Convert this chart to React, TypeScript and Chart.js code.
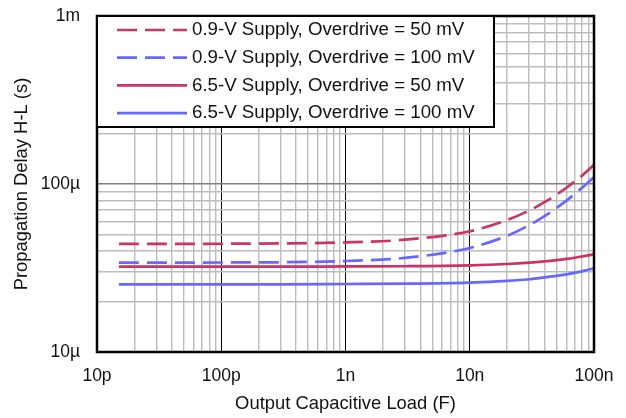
import React, { useEffect, useRef } from "react";
import { Chart, registerables } from "chart.js";

Chart.register(...registerables);

// Output capacitive load (F)
const loads = [15e-12, 30e-12, 100e-12, 300e-12, 1e-9, 3e-9, 10e-9, 20e-9, 30e-9, 40e-9, 50e-9, 60e-9, 70e-9, 80e-9, 90e-9, 100e-9];

// Propagation delay (µs)
const supply09od50 = [44, 44, 44.1, 44.3, 44.9, 46.6, 52.3, 61, 69.5, 78, 86.5, 95, 103.5, 112, 121, 130];
const supply09od100 = [34, 34, 34.1, 34.2, 34.8, 36.3, 41.6, 49.2, 56.8, 64.4, 72, 79.6, 87.2, 94.8, 102.4, 110];
const supply65od50 = [32.2, 32.2, 32.2, 32.2, 32.3, 32.4, 32.8, 33.4, 34, 34.6, 35.2, 35.8, 36.4, 37, 37.6, 38.2];
const supply65od100 = [25.3, 25.3, 25.3, 25.3, 25.4, 25.5, 25.9, 26.5, 27.1, 27.8, 28.4, 29, 29.6, 30.2, 30.9, 31.5];

const seriesLabels = [
  "0.9-V Supply, Overdrive = 50 mV",
  "0.9-V Supply, Overdrive = 100 mV",
  "6.5-V Supply, Overdrive = 50 mV",
  "6.5-V Supply, Overdrive = 100 mV",
];

const xDecades = [1e-11, 1e-10, 1e-9, 1e-8, 1e-7];
const xTickLabels = ["10p", "100p", "1n", "10n", "100n"];
const yDecades = [1e-5, 1e-4, 1e-3];
const yTickLabels = ["10µ", "100µ", "1m"];

const RED = "#cc3366";
const BLUE = "#6868ff";
const FONT = "'Liberation Sans', Arial, sans-serif";

function decadeTicks(decades: number[]) {
  const out: number[] = [];
  for (let i = 0; i < decades.length - 1; i++) {
    for (let m = 1; m < 10; m++) out.push(decades[i] * m);
  }
  out.push(decades[decades.length - 1]);
  return out;
}

function findMajor(v: number, decades: number[]) {
  return decades.findIndex((d) => Math.abs(v / d - 1) < 1e-6);
}

const legendPlugin = {
  id: "boxLegend",
  afterDraw(chart: any) {
    const { ctx, chartArea } = chart;
    const l = chartArea.left;
    const t = chartArea.top;
    ctx.save();
    // plot border
    ctx.strokeStyle = "#000";
    ctx.lineWidth = 2.5;
    ctx.strokeRect(chartArea.left, chartArea.top, chartArea.right - chartArea.left, chartArea.bottom - chartArea.top);
    // legend box
    ctx.fillStyle = "#fff";
    ctx.fillRect(l, t, 397, 111);
    ctx.lineWidth = 2;
    ctx.strokeRect(l, t, 397, 111);
    chart.data.datasets.forEach((ds: any, i: number) => {
      const y = t + 14 + i * 27.7;
      ctx.beginPath();
      ctx.strokeStyle = ds.borderColor;
      ctx.lineWidth = ds.borderWidth;
      ctx.setLineDash(ds.borderDash || []);
      ctx.moveTo(l + 20, y);
      ctx.lineTo(l + 90, y);
      ctx.stroke();
      ctx.setLineDash([]);
      ctx.fillStyle = "#111";
      ctx.font = `18.7px ${FONT}`;
      ctx.textBaseline = "middle";
      ctx.textAlign = "left";
      ctx.fillText(ds.label, l + 95, y);
    });
    ctx.restore();
  },
};

export default function App() {
  const ref = useRef<HTMLCanvasElement>(null);
  useEffect(() => {
    if (!ref.current) return;
    const mk = (vals: number[]) => loads.map((x, i) => ({ x, y: vals[i] * 1e-6 }));
    const chart = new Chart(ref.current, {
      type: "line",
      data: {
        datasets: [
          { label: seriesLabels[0], data: mk(supply09od50), borderColor: RED, borderDash: [20, 8], borderWidth: 2.7 },
          { label: seriesLabels[1], data: mk(supply09od100), borderColor: BLUE, borderDash: [20, 8], borderWidth: 2.7 },
          { label: seriesLabels[2], data: mk(supply65od50), borderColor: RED, borderWidth: 2.7 },
          { label: seriesLabels[3], data: mk(supply65od100), borderColor: BLUE, borderWidth: 2.7 },
        ],
      },
      options: {
        responsive: false,
        animation: false,
        layout: { padding: { top: 16, right: 32, bottom: 0, left: 0 } },
        elements: { point: { radius: 0 }, line: { cubicInterpolationMode: "monotone", fill: false } },
        plugins: { legend: { display: false }, tooltip: { enabled: false } },
        scales: {
          x: {
            type: "logarithmic",
            min: 1e-11,
            max: 1e-7,
            afterBuildTicks: (s: any) => {
              s.ticks = decadeTicks(xDecades).map((value) => ({ value }));
            },
            afterFit: (s: any) => {
              s.height = 66;
              s.paddingLeft = 0;
              s.paddingRight = 0;
            },
            grid: {
              drawTicks: false,
              color: (c: any) => (c.tick && findMajor(c.tick.value, xDecades) >= 0 ? "#000" : "#bcbcbc"),
              lineWidth: (c: any) => (c.tick && findMajor(c.tick.value, xDecades) >= 0 ? 1 : 1.4),
            },
            border: { display: false },
            ticks: {
              autoSkip: false,
              maxRotation: 0,
              padding: 14,
              color: "#111",
              font: { family: FONT, size: 17.5 },
              callback: (v: any) => {
                const i = findMajor(Number(v), xDecades);
                return i >= 0 ? xTickLabels[i] : "";
              },
            },
            title: {
              display: true,
              text: "Output Capacitive Load (F)",
              color: "#111",
              font: { family: FONT, size: 18.4 },
              padding: { top: 0, bottom: 3 },
            },
          },
          y: {
            type: "logarithmic",
            min: 1e-5,
            max: 1e-3,
            afterBuildTicks: (s: any) => {
              s.ticks = decadeTicks(yDecades).map((value) => ({ value }));
            },
            afterFit: (s: any) => {
              s.width = 97;
              s.paddingTop = 0;
              s.paddingBottom = 0;
            },
            grid: {
              drawTicks: false,
              color: (c: any) => (c.tick && findMajor(c.tick.value, yDecades) >= 0 ? "#808080" : "#bcbcbc"),
              lineWidth: 1.4,
            },
            border: { display: false },
            ticks: {
              autoSkip: false,
              padding: 17,
              color: "#111",
              font: { family: FONT, size: 17.5 },
              callback: (v: any) => {
                const i = findMajor(Number(v), yDecades);
                return i >= 0 ? yTickLabels[i] : "";
              },
            },
            title: {
              display: true,
              text: "Propagation Delay H-L (s)",
              color: "#111",
              font: { family: FONT, size: 18.4 },
              padding: { top: 11, bottom: 0 },
            },
          },
        },
      },
      plugins: [legendPlugin],
    });
    return () => chart.destroy();
  }, []);
  return (
    <div style={{ position: "absolute", left: 0, top: 0, width: 626, height: 418, background: "#fff" }}>
      <canvas ref={ref} width={626} height={418} style={{ display: "block" }} />
    </div>
  );
}
